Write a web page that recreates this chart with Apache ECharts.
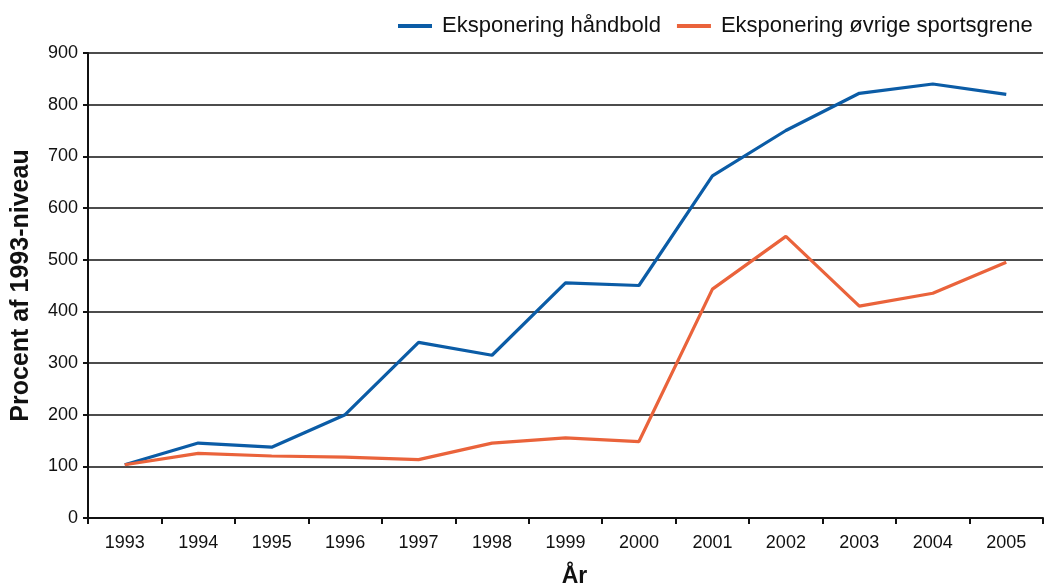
<!DOCTYPE html>
<html><head><meta charset="utf-8">
<script src="https://cdn.jsdelivr.net/npm/echarts@6/dist/echarts.min.js"></script>
<style>html,body{margin:0;padding:0;background:#fff}#c{width:1044px;height:584px}</style>
</head><body><div id="c"></div>
<script>
const years = ['1993','1994','1995','1996','1997','1998','1999','2000','2001','2002','2003','2004','2005'];
const haandbold = [103,145,137,200,340,315,455,450,662,750,822,840,820];
const oevrige = [103,125,120,118,113,145,155,148,443,545,410,435,495];
const seriesNames = ['Eksponering håndbold','Eksponering øvrige sportsgrene'];
const yTitle = 'Procent af 1993-niveau';
const xTitle = 'År';

const chart = echarts.init(document.getElementById('c'), null, {renderer:'canvas'});
const font = 'Liberation Sans, Arial, sans-serif';
chart.setOption({
  animation:false,
  backgroundColor:'#fff',
  grid:{left:88,right:1,top:53,bottom:66,containLabel:false,outerBoundsMode:'none'},
  legend:{
    data:seriesNames, left:393, top:10,
    itemWidth:34, itemHeight:4, itemGap:16,
    icon:'rect',
    textStyle:{fontFamily:font,fontSize:22,color:'#111',padding:[0,0,0,5]}
  },
  xAxis:{
    type:'category', data:years, boundaryGap:true,
    name:xTitle, nameLocation:'middle', nameGap:47,
    nameTextStyle:{fontFamily:font,fontSize:23,fontWeight:'bold',color:'#111',padding:[0,0,0,18]},
    axisLine:{lineStyle:{color:'#111',width:2}},
    axisTick:{show:true,length:6,lineStyle:{color:'#111',width:2},alignWithLabel:false},
    axisLabel:{fontFamily:font,fontSize:18,color:'#111',margin:16}
  },
  yAxis:{
    type:'value', min:0, max:900, interval:100,
    name:yTitle, nameLocation:'middle', nameGap:54,
    nameTextStyle:{fontFamily:font,fontSize:25,fontWeight:'bold',color:'#111'},
    axisLine:{show:true,lineStyle:{color:'#111',width:2}},
    axisTick:{show:true,length:5,lineStyle:{color:'#111',width:2}},
    axisLabel:{fontFamily:font,fontSize:18,color:'#111',margin:10},
    splitLine:{lineStyle:{color:'#111',width:1.6}}
  },
  series:[
    {name:seriesNames[0],type:'line',data:haandbold,showSymbol:false,symbol:'none',
     lineStyle:{color:'#0b5ca6',width:3.2},itemStyle:{color:'#0b5ca6'}},
    {name:seriesNames[1],type:'line',data:oevrige,showSymbol:false,symbol:'none',
     lineStyle:{color:'#ea633b',width:3.2},itemStyle:{color:'#ea633b'}}
  ]
});
</script></body></html>
